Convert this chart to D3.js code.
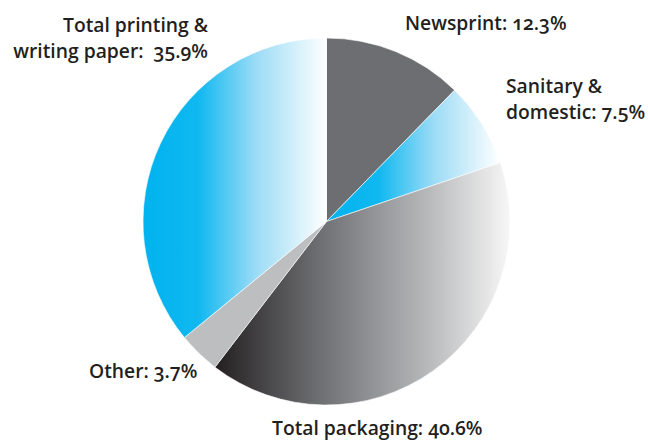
<!DOCTYPE html>
<html>
<head>
<meta charset="utf-8">
<script src="https://cdn.jsdelivr.net/npm/d3@7"></script>
<style>
  html, body { margin: 0; padding: 0; background: #fff; }
  svg { display: block; }
  .lbl { font-family: "Open Sans", Lato, sans-serif; font-weight: 600; font-size: 19.3px; fill: #231f20;
         font-variant-numeric: oldstyle-nums; font-feature-settings: "onum" 1; }
</style>
</head>
<body>
<svg id="chart" width="648" height="441"></svg>
<script>
// Paper consumption by grade, share of total (%)
const categories = ["Newsprint", "Sanitary & domestic", "Total packaging", "Other", "Total printing & writing paper"];
const values = [12.3, 7.5, 40.6, 3.7, 35.9];
const labelLines = [
  ["Newsprint: 12.3%"],
  ["Sanitary &", "domestic: 7.5%"],
  ["Total packaging: 40.6%"],
  ["Other: 3.7%"],
  ["Total printing &", "writing paper:  35.9%"]
];

// Fill styles per slice
const fills = ["flat-dark", "blue", "grey", "flat-light", "blue"];

// Label layout: anchor point of first baseline, text-anchor
const labelLayout = [
  { x: 405, y: 30, anchor: "start" },
  { x: 506, y: 93, anchor: "start" },
  { x: 272, y: 435, anchor: "start" },
  { x: 89, y: 378, anchor: "start" },
  { x: 208, y: 32, anchor: "end" }
];

const svg = d3.select("#chart");
const cx = 326.5, cy = 221.5, r = 183.5;

const defs = svg.append("defs");
const blue = defs.append("linearGradient").attr("id", "g-blue").attr("x1", 0).attr("x2", 1).attr("y1", 0).attr("y2", 0);
[[0, "#00b3ef"], [0.3, "#10b8f0"], [0.62, "#9ddcf6"], [1, "#ffffff"]].forEach(([o, c]) =>
  blue.append("stop").attr("offset", o).attr("stop-color", c));
const grey = defs.append("linearGradient").attr("id", "g-grey").attr("x1", 0).attr("x2", 1).attr("y1", 0).attr("y2", 0);
[[0, "#231f20"], [0.35, "#6d6e71"], [0.7, "#b3b4b6"], [1, "#f7f7f7"]].forEach(([o, c]) =>
  grey.append("stop").attr("offset", o).attr("stop-color", c));

const fillFor = {
  "flat-dark": "#6d6e71",
  "flat-light": "#bcbec0",
  "blue": "url(#g-blue)",
  "grey": "url(#g-grey)"
};

const pie = d3.pie().sort(null).value(d => d.value);
const arcs = pie(values.map((v, i) => ({ value: v, i })));
const arc = d3.arc().innerRadius(0).outerRadius(r);

const g = svg.append("g").attr("transform", `translate(${cx},${cy})`);
g.selectAll("path")
  .data(arcs)
  .join("path")
  .attr("d", arc)
  .attr("fill", d => fillFor[fills[d.data.i]])
  .attr("stroke", "#ffffff")
  .attr("stroke-width", 0.6);

const labels = svg.append("g");
labelLines.forEach((lines, i) => {
  const L = labelLayout[i];
  const t = labels.append("text")
    .attr("class", "lbl")
    .attr("x", L.x)
    .attr("y", L.y)
    .attr("text-anchor", L.anchor)
    .attr("xml:space", "preserve");
  lines.forEach((s, j) => {
    t.append("tspan").attr("x", L.x).attr("dy", j === 0 ? 0 : 25.5).text(s);
  });
});
</script>
</body>
</html>
